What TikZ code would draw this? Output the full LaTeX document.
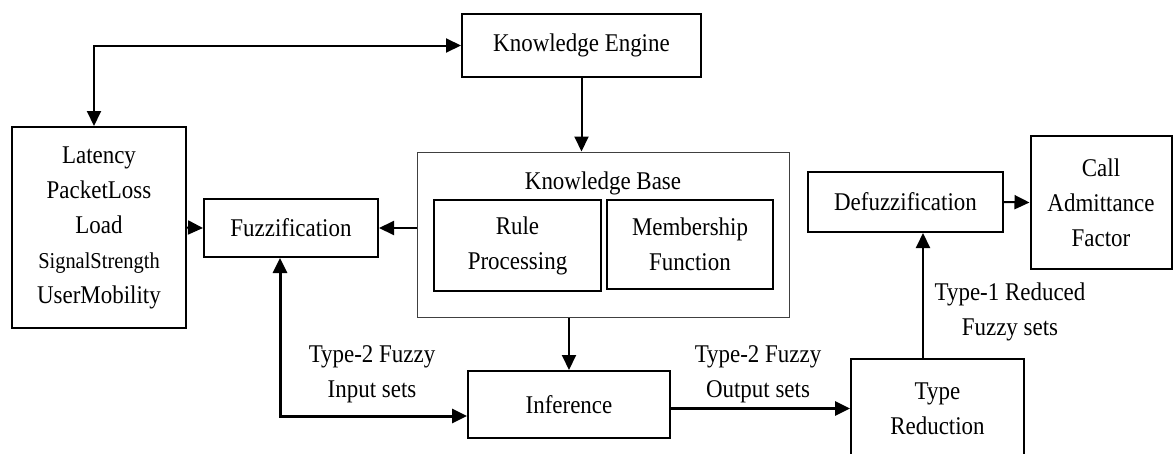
\documentclass[tikz,border=0pt]{standalone}
\usepackage{fontspec}
\setmainfont{Liberation Serif}[FakeStretch=0.9]
\usetikzlibrary{arrows.meta}

\begin{document}
\begin{tikzpicture}[x=1pt, y=-1pt,
  box/.style={draw, line width=2pt, align=center, inner sep=0pt, font=\fontsize{25.5}{35}\selectfont},
  lbl/.style={align=center, font=\fontsize{25.5}{35}\selectfont},
  arr/.style={line width=2pt, -{Triangle[length=15pt,width=14pt]}},
  both/.style={line width=2pt, {Triangle[length=15pt,width=14pt]}-{Triangle[length=15pt,width=14pt]}},
  thickarr/.style={arr, line width=3pt},
  thickboth/.style={both, line width=3pt}]
\useasboundingbox (0,0) rectangle (1173,453);
\node[box, minimum width=239pt, minimum height=63pt] (engine) at (581.5,45.5) {Knowledge Engine};
\node[box, minimum width=174pt, minimum height=201pt] (inputs) at (99,227.5) {Latency\\PacketLoss\\Load\\{\fontsize{22.7}{35}\selectfont SignalStrength}\\UserMobility};
\node[box, minimum width=174pt, minimum height=58pt] (fuzz) at (291,228) {Fuzzification};
\node[draw=black!75, line width=1pt, minimum width=372pt, minimum height=165pt] (kb) at (603,234.5) {};
\node[lbl] (kbtitle) at (603,183) {Knowledge Base};
\node[box, minimum width=167pt, minimum height=91pt] (rule) at (517.5,245.5) {Rule\\Processing};
\node[box, minimum width=166pt, minimum height=89pt] (member) at (690,244.5) {Membership\\Function};
\node[box, minimum width=202pt, minimum height=67pt] (infer) at (569,404.5) {Inference};
\node[box, minimum width=173pt, minimum height=99pt] (typered) at (937.5,408.5) {Type\\Reduction};
\node[box, minimum width=195pt, minimum height=60pt] (defuzz) at (905.5,202) {Defuzzification};
\node[box, minimum width=141pt, minimum height=133pt] (caf) at (1101,202.5) {Call\\Admittance\\Factor};
\node[lbl] (lblin) at (372,374.5) {Type-2 Fuzzy\\Input sets};
\node[lbl] (lblout) at (758,374.5) {Type-2 Fuzzy\\Output sets};
\node[lbl] (lblred) at (1010,311.5) {Type-1 Reduced\\Fuzzy sets};

\coordinate (fz) at ([xshift=-11pt]fuzz.south);
\coordinate (inf) at ([yshift=-11.5pt]infer.west);
\coordinate (tr) at ([xshift=-14.5pt]typered.north);
\draw[both] ([xshift=-5pt]inputs.north) |- (engine.west);
\draw[arr] (engine.south) -- (engine.south |- kb.north);
\draw[arr] (inputs.east) -- (fuzz.west);
\draw[arr] (kb.west |- fuzz.east) -- (fuzz.east);
\draw[arr] (infer.north |- kb.south) -- (infer.north);
\draw[thickboth] (fz) |- (inf);
\draw[thickarr] (infer.east |- typered.west) -- (typered.west);
\draw[arr] (tr) -- (tr |- defuzz.south);
\draw[arr] (defuzz.east) -- (caf.west);
\end{tikzpicture}
\end{document}
